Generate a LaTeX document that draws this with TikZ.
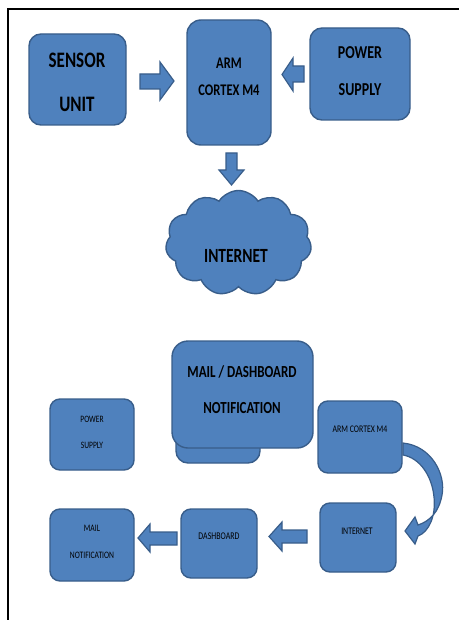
\documentclass[tikz,border=0pt]{standalone}
\usepackage{fontspec}
\setmainfont{Carlito}
\usetikzlibrary{shapes.symbols}
\definecolor{boxfill}{HTML}{4F81BD}
\definecolor{boxline}{HTML}{385D8A}
\newcommand\vs[1]{\scalebox{1}[1.3]{\begin{tabular}{@{}c@{}}#1\end{tabular}}}
\newcommand\bx[6][12]{\node[box, rounded corners=#1, minimum width={#5-#3}, minimum height={#6-#4}] (#2) at ({(#3+#5)/2},{(#4+#6)/2}) {};}
\tikzset{
  box/.style={draw=boxline, fill=boxfill, line width=1.4pt, inner sep=0pt, outer sep=0pt},
  blk/.style={draw=boxline, fill=boxfill, line width=1.2pt, line join=miter},
  txt/.style={inner sep=0pt, text=black},
}
\begin{document}
\begin{tikzpicture}[x=1pt,y=-1pt]
\useasboundingbox (0,0) rectangle (459,620);
\draw[line width=1.8pt] (8,620) -- (8,9) -- (459,9);
% top diagram
\bx{sensor}{29}{34}{126}{125}
\bx[14]{arm}{187}{20}{271}{145}
\bx{power}{310}{28}{410}{120}
\node[txt, font=\fontsize{17}{34}\selectfont\bfseries] (sensort) at (77,81) {\vs{SENSOR\\UNIT}};
\node[txt, font=\fontsize{12.5}{20.8}\selectfont\bfseries] (armt) at (229,76.5) {\vs{ARM\\CORTEX M4}};
\node[txt, font=\fontsize{14}{28.5}\selectfont\bfseries] (powert) at (360,69.5) {\vs{POWER\\SUPPLY}};
% block arrows
\draw[blk] (140,74) -- (160,74) -- (160,62) -- (174,81) -- (160,100) -- (160,89) -- (140,89) -- cycle;
\draw[blk] (304,66) -- (293,66) -- (293,58) -- (282,74.5) -- (293,91) -- (293,82) -- (304,82) -- cycle;
\draw[blk] (226,153) -- (237,153) -- (237,170) -- (244,170) -- (231.5,185) -- (219,170) -- (226,170) -- cycle;
% cloud
\node[cloud, draw=boxline, fill=boxfill, line width=1.4pt, cloud puffs=11, cloud puff arc=115, aspect=1.45, minimum width=146pt, minimum height=105pt, inner sep=0pt] (cloud) at (238.5,243) {};
\node[txt, font=\fontsize{15.5}{20}\selectfont\bfseries] (cloudt) at (236,257) {\vs{INTERNET}};
% bottom diagram
\bx{mdback}{176}{380}{260}{463}
\bx[16]{mdfront}{172}{341}{313}{448}
\node[txt, font=\fontsize{13}{27.7}\selectfont\bfseries] (mdt) at (242,388) {\vs{MAIL / DASHBOARD\\NOTIFICATION}};
\bx[10]{power2}{50}{399}{134}{470}
\node[txt, font=\fontsize{7.5}{20}\selectfont] (power2t) at (92,430) {\vs{POWER\\SUPPLY}};
\bx[10]{arm2}{318}{401}{402}{473}
\node[txt, font=\fontsize{7.8}{10}\selectfont] (arm2t) at (360,430) {\vs{ARM CORTEX M4}};
\bx[10]{inet2}{320}{503}{396}{572}
\node[txt, font=\fontsize{7.8}{10}\selectfont] (inet2t) at (357,532) {\vs{INTERNET}};
\bx[10]{dash}{181}{509}{257}{578}
\node[txt, font=\fontsize{7.9}{10}\selectfont] (dasht) at (219,537) {\vs{DASHBOARD}};
\bx[10]{mail}{50}{509}{134}{581}
\node[txt, font=\fontsize{7.6}{20.8}\selectfont] (mailt) at (92,539.5) {\vs{MAIL\\NOTIFICATION}};
% curved arrow
\draw[blk] (403,443) .. controls (432,446) and (446,475) .. (442,495) .. controls (439,512) and (430,521) .. (418,525) -- (415,517) -- (405,531) -- (415,544) -- (418,536) .. controls (429,532) and (436,516) .. (434,497) .. controls (432,476) and (420,458) .. (403,455) -- cycle;
\draw[blk] (307,530) -- (282,530) -- (282,522) -- (269,536.5) -- (282,551) -- (282,543) -- (307,543) -- cycle;
\draw[blk] (177,532) -- (150,532) -- (150,524) -- (138,538) -- (150,552) -- (150,545) -- (177,545) -- cycle;
\end{tikzpicture}
\end{document}
